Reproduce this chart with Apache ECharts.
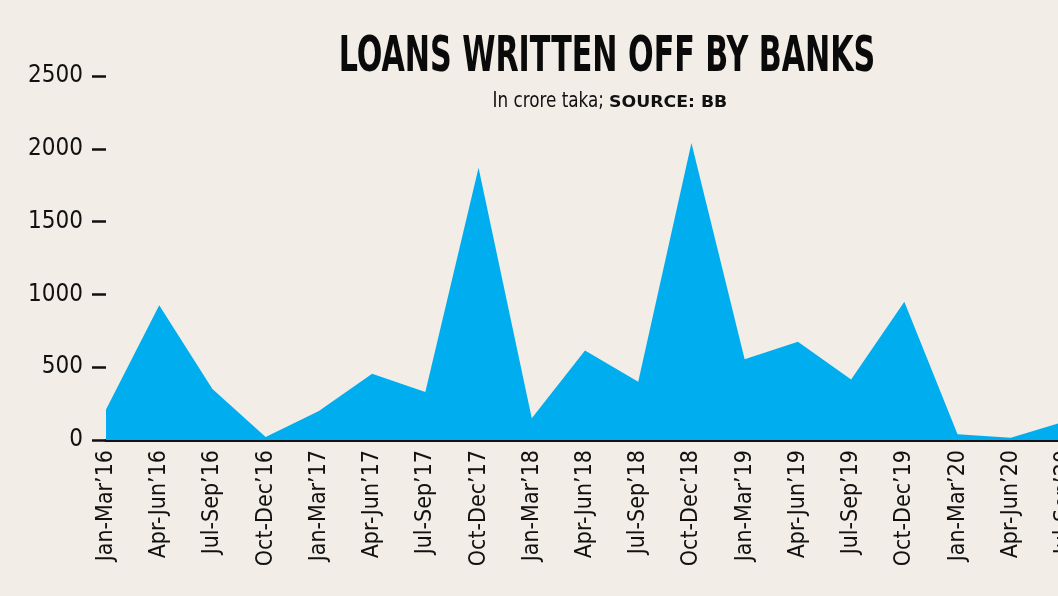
<!DOCTYPE html>
<html>
<head>
<meta charset="utf-8">
<script src="https://cdn.jsdelivr.net/npm/echarts@6/dist/echarts.min.js"></script>
<style>
html,body{margin:0;padding:0;background:#f2ede6;}
#chart{width:1058px;height:596px;}
</style>
</head>
<body>
<div id="chart"></div>
<script>
const categories = ["Jan-Mar\u201916","Apr-Jun\u201916","Jul-Sep\u201916","Oct-Dec\u201916",
  "Jan-Mar\u201917","Apr-Jun\u201917","Jul-Sep\u201917","Oct-Dec\u201917",
  "Jan-Mar\u201918","Apr-Jun\u201918","Jul-Sep\u201918","Oct-Dec\u201918",
  "Jan-Mar\u201919","Apr-Jun\u201919","Jul-Sep\u201919","Oct-Dec\u201919",
  "Jan-Mar\u201920","Apr-Jun\u201920","Jul-Sep\u201920"];
const writtenOff = [210,925,350,20,200,455,330,1870,150,615,400,2040,555,675,415,950,40,15,125];
const yTicks = [0,500,1000,1500,2000,2500];
const titleText = "LOANS WRITTEN OFF BY BANKS";
const subtitleText = "In crore taka;";
const sourceText = "SOURCE: BB";

const narrow = "'DejaVu Sans Condensed',sans-serif";
const chart = echarts.init(document.getElementById('chart'), null, {renderer:'canvas'});
chart.setOption({
  backgroundColor:'#f2ede6',
  animation:false,
  grid:{left:106, right:-6, top:76, bottom:156, containLabel:false, outerBoundsMode:'none'},
  xAxis:{
    type:'category', data:categories, boundaryGap:false,
    axisLine:{show:true, lineStyle:{color:'#111', width:3}},
    axisTick:{show:false},
    axisLabel:{rotate:90, margin:10, color:'#111', fontSize:23, fontFamily:narrow, interval:0, hideOverlap:false},
    splitLine:{show:false}
  },
  yAxis:{
    type:'value', min:yTicks[0], max:yTicks[yTicks.length-1], interval:500,
    axisLine:{show:false},
    axisTick:{show:true, length:14, lineStyle:{color:'#111', width:2.5}},
    axisLabel:{margin:23, color:'#111', fontSize:24, fontFamily:narrow, formatter:function(v){return String(v);}},
    splitLine:{show:false}
  },
  series:[{
    type:'line', data:writtenOff, symbol:'none',
    lineStyle:{width:0, opacity:0},
    areaStyle:{color:'#00aeef', opacity:1}
  }],
  graphic:[
    {type:'text', x:607, y:58, scaleX:0.67, style:{text:titleText, fill:'#0a0a0a', font:"bold 50px 'DejaVu Sans Condensed', sans-serif", textAlign:'center', textVerticalAlign:'middle'}},
    {type:'text', x:604, y:101, scaleX:0.85, style:{text:subtitleText, fill:'#111', font:"22px 'DejaVu Sans Condensed', sans-serif", textAlign:'right', textVerticalAlign:'middle'}},
    {type:'text', x:609, y:103, scaleX:1.08, style:{text:sourceText, fill:'#111', font:"bold 16px 'DejaVu Sans', sans-serif", textAlign:'left', textVerticalAlign:'middle'}}
  ]
});
</script>
</body>
</html>
